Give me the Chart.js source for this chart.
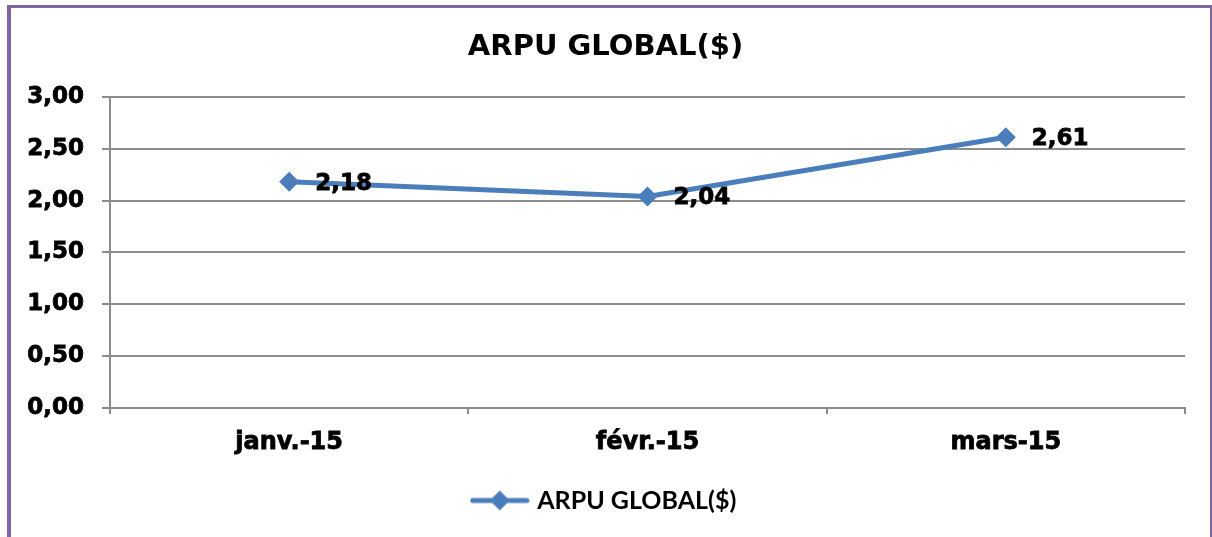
<!DOCTYPE html>
<html>
<head>
<meta charset="utf-8">
<script src="https://cdn.jsdelivr.net/npm/chart.js@4.4.1/dist/chart.umd.min.js"></script>
<style>
  html, body { margin: 0; padding: 0; background: #fff; overflow: hidden; }
  #wrap { position: relative; width: 1212px; height: 537px; overflow: hidden; }
  #frame { position: absolute; left: 7px; top: 5px; width: 1207px; height: 560px; border-style: solid; border-color: #8064A2; border-width: 3px 4px 0 4px; box-sizing: border-box; pointer-events: none; z-index: 2; }
  canvas { position: absolute; left: 0; top: 0; }
</style>
</head>
<body>
<div id="wrap">
  <canvas id="c" width="1212" height="537"></canvas>
  <div id="frame"></div>
</div>
<script>
const categories = ['janv.-15', 'févr.-15', 'mars-15'];
const arpuValues = [2.18, 2.04, 2.61];
const seriesName = 'ARPU GLOBAL($)';
const chartTitle = 'ARPU GLOBAL($)';

const LINE_COLOR = '#4A7EBB';
const GRID_COLOR = '#8C8C8C';
const FONT = '"DejaVu Sans", Verdana, sans-serif';

function fmt(v) { return v.toFixed(2).replace('.', ','); }

// legend marker: line with diamond
const legendMarker = document.createElement('canvas');
legendMarker.width = 60; legendMarker.height = 22;
(function () {
  const g = legendMarker.getContext('2d');
  g.strokeStyle = LINE_COLOR; g.lineWidth = 5; g.lineCap = 'round';
  g.beginPath(); g.moveTo(3, 11); g.lineTo(57, 11); g.stroke();
  g.fillStyle = LINE_COLOR;
  g.beginPath(); g.moveTo(30, 1); g.lineTo(40, 11); g.lineTo(30, 21); g.lineTo(20, 11); g.closePath(); g.fill();
})();

const dataLabels = {
  id: 'dataLabels',
  afterDatasetsDraw(chart) {
    const ctx = chart.ctx;
    const meta = chart.getDatasetMeta(0);
    ctx.save();
    ctx.font = 'bold 23px ' + FONT;
    ctx.fillStyle = '#000';
    ctx.strokeStyle = '#000';
    ctx.lineWidth = 0.8;
    ctx.textAlign = 'left';
    ctx.textBaseline = 'middle';
    meta.data.forEach((pt, i) => {
      const t = fmt(chart.data.datasets[0].data[i]);
      ctx.fillText(t, pt.x + 26, pt.y + 2);
      ctx.strokeText(t, pt.x + 26, pt.y + 2);
    });
    ctx.restore();
  }
};

new Chart(document.getElementById('c'), {
  type: 'line',
  data: {
    labels: categories,
    datasets: [{
      label: seriesName,
      data: arpuValues,
      borderColor: LINE_COLOR,
      backgroundColor: LINE_COLOR,
      borderWidth: 5,
      pointStyle: 'rectRot',
      pointRadius: 10,
      pointHoverRadius: 10,
      pointBackgroundColor: LINE_COLOR,
      pointBorderColor: LINE_COLOR,
      pointBorderWidth: 0,
      tension: 0
    }]
  },
  options: {
    responsive: false,
    animation: false,
    events: [],
    layout: { padding: { left: 26, right: 27, top: 0, bottom: 14 } },
    plugins: {
      title: {
        display: true,
        text: chartTitle,
        color: '#000',
        font: { family: FONT, size: 29, weight: 'bold' },
        padding: { top: 30, bottom: 32 }
      },
      legend: {
        display: true,
        position: 'bottom',
        labels: {
          usePointStyle: true,
          pointStyle: legendMarker,
          pointStyleWidth: 50,
          boxHeight: 22,
          padding: 25,
          color: '#000',
          font: { family: 'Lato, "Open Sans", sans-serif', size: 25, weight: 'bold' }
        }
      },
      tooltip: { enabled: false }
    },
    scales: {
      x: {
        offset: true,
        grid: { offset: true, drawOnChartArea: false, drawTicks: true, tickLength: 6, color: GRID_COLOR, lineWidth: 2 },
        border: { display: true, color: GRID_COLOR, width: 2 },
        ticks: { color: '#000', padding: 14, textStrokeColor: '#000', textStrokeWidth: 0.8, font: { family: FONT, size: 24, weight: 'bold' }, maxRotation: 0 },
        afterFit(s) { s.height = 55; }
      },
      y: {
        min: 0, max: 3,
        grid: { color: GRID_COLOR, lineWidth: 2, drawTicks: true, tickLength: 8 },
        border: { display: true, color: GRID_COLOR, width: 2 },
        ticks: { stepSize: 0.5, color: '#000', padding: 18, textStrokeColor: '#000', textStrokeWidth: 0.8, font: { family: FONT, size: 23, weight: 'bold' }, callback: v => fmt(v) },
        afterFit(s) { s.width = 84; }
      }
    }
  },
  plugins: [dataLabels]
});
</script>
</body>
</html>
